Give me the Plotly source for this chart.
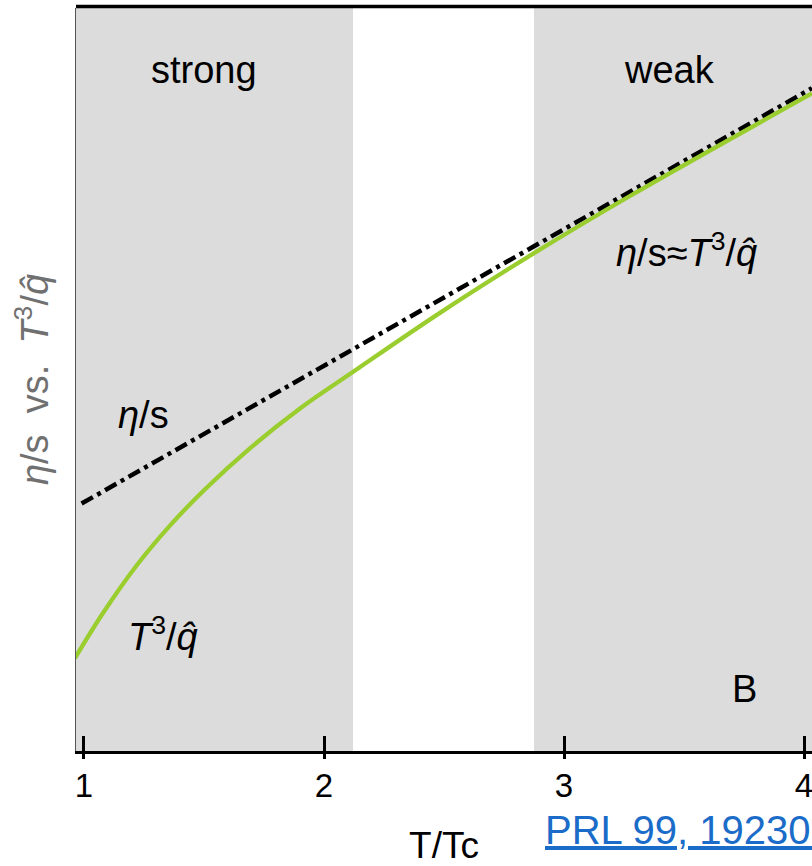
import plotly.graph_objects as go

# ---- data ----
T_eta = [0.99, 2.0, 3.0, 4.033]
eta_s = [0.333, 0.519, 0.703, 0.892]

T_qhat = [0.9625, 1.08, 1.22, 1.36, 1.50, 1.69, 1.90, 2.12, 2.48, 2.87, 3.28, 4.033]
T3_qhat = [0.125, 0.186, 0.250, 0.304, 0.351, 0.407, 0.461, 0.510, 0.589, 0.669, 0.748, 0.885]

strong_region = [0.9, 2.121]
weak_region = [2.875, 4.2]

x_ticks = [1, 2, 3, 4]
x_tick_labels = ["1", "2", "3", "4"]

FONT = "Liberation Sans, Arial, Helvetica, sans-serif"

fig = go.Figure()

fig.add_trace(go.Scatter(
    x=T_eta, y=eta_s, mode="lines",
    line=dict(color="black", width=4.5, dash="13px,5px,4px,5px"),
    showlegend=False, hoverinfo="skip"))

fig.add_trace(go.Scatter(
    x=T_qhat, y=T3_qhat, mode="lines", line_shape="spline",
    line=dict(color="#9acd2e", width=4.3),
    showlegend=False, hoverinfo="skip"))

# dummy trace so the second (outside-tick) x axis is drawn
fig.add_trace(go.Scatter(x=[None], y=[None], xaxis="x2", showlegend=False, hoverinfo="skip"))

shapes = []
for reg in (strong_region, weak_region):
    shapes.append(dict(type="rect", xref="x", yref="paper", x0=reg[0], x1=reg[1],
                       y0=0, y1=1, fillcolor="#dcdcdc", line=dict(width=0), layer="below"))
shapes.append(dict(type="line", xref="paper", yref="paper", x0=0, x1=1.01, y0=1.002, y1=1.002,
                   line=dict(color="black", width=3.5), layer="above"))
fig.update_layout(shapes=shapes)

xr = [0.9667, 4.0333]
fig.update_layout(
    width=812, height=866,
    margin=dict(l=76, r=0, t=8, b=115),
    plot_bgcolor="rgba(0,0,0,0)", paper_bgcolor="white",
    xaxis=dict(range=xr, tickvals=x_ticks, ticktext=x_tick_labels,
               ticks="inside", ticklen=15, tickwidth=2.5, tickcolor="black",
               showline=True, linecolor="black", linewidth=2.5,
               showgrid=False, zeroline=False,
               tickfont=dict(family=FONT, size=33, color="black"),
               ticklabelstandoff=4, ticklabeloverflow="allow",
               title=dict(text="T/Tc", font=dict(family=FONT, size=37, color="black"), standoff=38),
               automargin=False),
    xaxis2=dict(range=xr, overlaying="x", anchor="y", side="bottom",
                tickvals=x_ticks, ticks="outside", ticklen=7, tickwidth=2.5, tickcolor="black",
                showticklabels=False, showline=False, showgrid=False, zeroline=False),
    yaxis=dict(range=[0, 1], showticklabels=False, ticks="", showgrid=False, zeroline=False,
               showline=True, linecolor="#555555", linewidth=1.2,
               title=dict(text="<i>η</i>/s  vs.  <i>T</i><sup>3</sup>/<i>q̂</i>",
                          font=dict(family=FONT, size=38, color="#707070"), standoff=14),
               automargin=False),
)

ann_font = dict(family=FONT, size=38, color="black")
annotations = [
    dict(x=1.5, y=0.917, text="strong"),
    dict(x=3.44, y=0.917, text="weak"),
    dict(x=1.25, y=0.452, text="<i>η</i>/s"),
    dict(x=1.33, y=0.157, text="<i>T</i><sup>3</sup>/<i>q̂</i>"),
    dict(x=3.51, y=0.674, text="<i>η</i>/s≈<i>T</i><sup>3</sup>/<i>q̂</i>"),
    dict(x=3.75, y=0.083, text="B"),
]
for a in annotations:
    a.update(xref="x", yref="y", showarrow=False, font=ann_font, xanchor="center", yanchor="middle")
annotations.append(dict(xref="paper", yref="paper", x=0.6345, y=-0.106, xanchor="left", yanchor="middle",
                        showarrow=False, text="PRL 99, 192301 (2007)",
                        font=dict(family=FONT, size=40, color="#1a6cc8", lineposition="under")))
fig.update_layout(annotations=annotations)

fig.write_html("out.html", config={"displayModeBar": False},
               post_script="document.body.style.margin='0px';document.body.style.overflow='hidden';")
